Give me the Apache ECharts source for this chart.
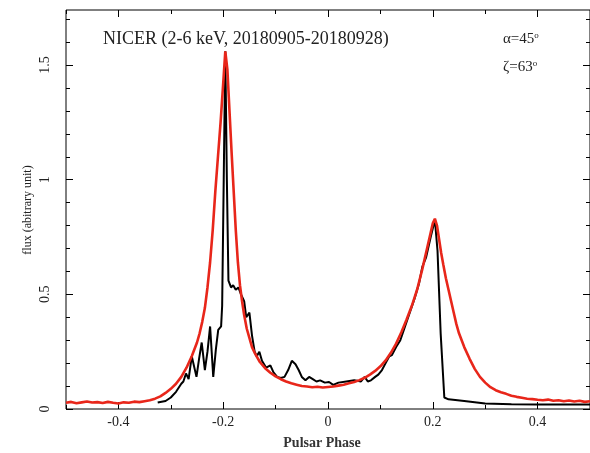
<!DOCTYPE html>
<html>
<head>
<meta charset="utf-8">
<script src="https://cdn.jsdelivr.net/npm/echarts@6/dist/echarts.min.js"></script>
<style>html,body{margin:0;padding:0;background:#fff}#c{width:590px;height:453px}</style>
</head>
<body>
<div id="c"></div>
<script>
// Model curve (red)
const redPhase = [-0.50,-0.49,-0.48,-0.47,-0.46,-0.45,-0.44,-0.43,-0.42,-0.41,-0.40,-0.39,-0.38,-0.37,-0.36,-0.35,-0.34,-0.33,-0.32,-0.31,-0.30,-0.29,-0.28,-0.27,-0.26,-0.25,-0.245,-0.24,-0.235,-0.23,-0.225,-0.22,-0.215,-0.21,-0.205,-0.20,-0.196,-0.192,-0.188,-0.184,-0.18,-0.176,-0.172,-0.168,-0.164,-0.16,-0.155,-0.15,-0.145,-0.14,-0.13,-0.12,-0.11,-0.10,-0.09,-0.08,-0.07,-0.06,-0.05,-0.04,-0.03,-0.02,-0.01,0.00,0.01,0.02,0.03,0.04,0.05,0.06,0.07,0.08,0.09,0.10,0.11,0.12,0.13,0.14,0.15,0.16,0.17,0.18,0.19,0.196,0.200,0.204,0.208,0.212,0.216,0.22,0.225,0.23,0.235,0.24,0.245,0.25,0.26,0.27,0.28,0.29,0.30,0.31,0.32,0.33,0.34,0.35,0.36,0.37,0.38,0.39,0.40,0.41,0.42,0.43,0.44,0.45,0.46,0.47,0.48,0.49,0.50];
const redFlux = [0.027,0.031,0.025,0.029,0.033,0.028,0.030,0.026,0.031,0.027,0.024,0.029,0.027,0.032,0.030,0.034,0.038,0.045,0.055,0.070,0.088,0.110,0.140,0.180,0.230,0.290,0.330,0.380,0.440,0.530,0.640,0.780,0.950,1.100,1.250,1.420,1.560,1.480,1.300,1.120,0.950,0.780,0.640,0.540,0.470,0.410,0.350,0.310,0.270,0.245,0.205,0.178,0.158,0.142,0.130,0.120,0.112,0.106,0.100,0.098,0.095,0.097,0.094,0.096,0.098,0.102,0.106,0.112,0.118,0.126,0.136,0.150,0.166,0.186,0.212,0.245,0.285,0.335,0.390,0.450,0.520,0.610,0.710,0.770,0.810,0.830,0.800,0.740,0.680,0.630,0.570,0.520,0.470,0.420,0.370,0.330,0.270,0.220,0.175,0.140,0.115,0.095,0.082,0.073,0.066,0.058,0.053,0.049,0.045,0.043,0.040,0.038,0.041,0.036,0.038,0.034,0.037,0.033,0.036,0.031,0.034];

// NICER data (black)
const blackPhase = [-0.325,-0.31,-0.30,-0.29,-0.28,-0.276,-0.271,-0.266,-0.260,-0.251,-0.246,-0.241,-0.235,-0.230,-0.225,-0.219,-0.214,-0.2095,-0.204,-0.202,-0.199,-0.196,-0.193,-0.190,-0.185,-0.181,-0.176,-0.171,-0.166,-0.160,-0.156,-0.150,-0.145,-0.140,-0.136,-0.131,-0.126,-0.118,-0.110,-0.104,-0.097,-0.090,-0.083,-0.076,-0.069,-0.062,-0.056,-0.050,-0.043,-0.036,-0.029,-0.022,-0.015,-0.006,0.002,0.010,0.020,0.035,0.050,0.063,0.070,0.076,0.082,0.090,0.096,0.103,0.110,0.117,0.122,0.130,0.138,0.147,0.156,0.165,0.174,0.180,0.187,0.196,0.204,0.209,0.215,0.222,0.230,0.260,0.300,0.350,0.400,0.450,0.500];
const blackFlux = [0.028,0.035,0.050,0.075,0.110,0.120,0.155,0.130,0.230,0.140,0.220,0.290,0.170,0.250,0.360,0.140,0.260,0.345,0.360,0.450,1.000,1.560,1.000,0.560,0.530,0.540,0.520,0.530,0.500,0.470,0.400,0.420,0.320,0.250,0.230,0.250,0.210,0.180,0.190,0.160,0.140,0.135,0.140,0.170,0.210,0.195,0.170,0.140,0.125,0.140,0.130,0.120,0.125,0.115,0.118,0.105,0.115,0.120,0.125,0.120,0.140,0.120,0.125,0.140,0.150,0.170,0.200,0.230,0.235,0.270,0.300,0.360,0.420,0.480,0.550,0.620,0.660,0.750,0.825,0.690,0.330,0.050,0.042,0.035,0.024,0.021,0.020,0.020,0.020];

const xMajor = [-0.4,-0.2,0,0.2,0.4];
const xMinor = [-0.5,-0.3,-0.1,0.1,0.3,0.5];
const yMajor = [0,0.5,1,1.5];
const yMinor = [0.1,0.2,0.3,0.4,0.6,0.7,0.8,0.9,1.1,1.2,1.3,1.4,1.6,1.7];

const serif = '"Liberation Serif","DejaVu Serif",serif';
const zip = (a,b) => a.map((v,i)=>[v,b[i]]);

function xAx(pos, ticks, len, labels) {
  return {type:'value', min:-0.5, max:0.5, position:pos,
    axisLine:{show:false, onZero:false}, splitLine:{show:false},
    axisTick:{show:true, inside:true, length:len, customValues:ticks, lineStyle:{color:'#000',width:1}},
    axisLabel:labels ? {show:true, customValues:xMajor, fontFamily:serif, fontSize:14, color:'#222', margin:6} : {show:false}};
}
function yAx(pos, ticks, len, labels) {
  return {type:'value', min:0, max:1.74, position:pos,
    axisLine:{show:false, onZero:false}, splitLine:{show:false},
    axisTick:{show:true, inside:true, length:len, customValues:ticks, lineStyle:{color:'#000',width:1}},
    axisLabel:labels ? {show:true, customValues:yMajor, rotate:90, fontFamily:serif, fontSize:14, color:'#222', margin:14} : {show:false}};
}

const chart = echarts.init(document.getElementById('c'));
chart.setOption({
  animation:false,
  backgroundColor:'#fff',
  grid:{left:66, right:-3, top:10, bottom:44, show:true, borderColor:'#000', borderWidth:1, backgroundColor:'transparent'},
  xAxis:[xAx('bottom',xMajor,7,true), xAx('bottom',xMinor,4,false), xAx('top',xMajor,7,false), xAx('top',xMinor,4,false)],
  yAxis:[yAx('left',yMajor,7,true), yAx('left',yMinor,4,false), yAx('right',yMajor,7,false), yAx('right',yMinor,4,false)],
  series:[
    {type:'line', name:'NICER', data:zip(blackPhase,blackFlux), showSymbol:false, symbol:'none', z:2,
     lineStyle:{color:'#000', width:2}},
    {type:'line', name:'model', data:zip(redPhase,redFlux), showSymbol:false, symbol:'none', z:3,
     lineStyle:{color:'#e8261a', width:2.6}}
  ],
  graphic:[
    {type:'text', left:103, top:30, style:{text:'NICER (2-6 keV, 20180905-20180928)', font:'18px '+serif, fill:'#222'}},
    {type:'text', left:503, top:31, style:{text:'{a|α=45}{s|o}', rich:{a:{font:'15px '+serif, fill:'#222'}, s:{font:'9px '+serif, fill:'#222', padding:[0,0,8,0]}}}},
    {type:'text', left:503, top:59, style:{text:'{a|ζ=63}{s|o}', rich:{a:{font:'15px '+serif, fill:'#222'}, s:{font:'9px '+serif, fill:'#222', padding:[0,0,8,0]}}}},
    {type:'text', x:28, y:210, rotation:Math.PI/2, style:{text:'flux (abitrary unit)', font:'12px '+serif, fill:'#222', align:'center', verticalAlign:'middle'}},
    {type:'text', x:322, y:443, style:{text:'Pulsar Phase', font:'bold 14px '+serif, fill:'#333', align:'center', verticalAlign:'middle'}}
  ]
});
</script>
</body>
</html>
